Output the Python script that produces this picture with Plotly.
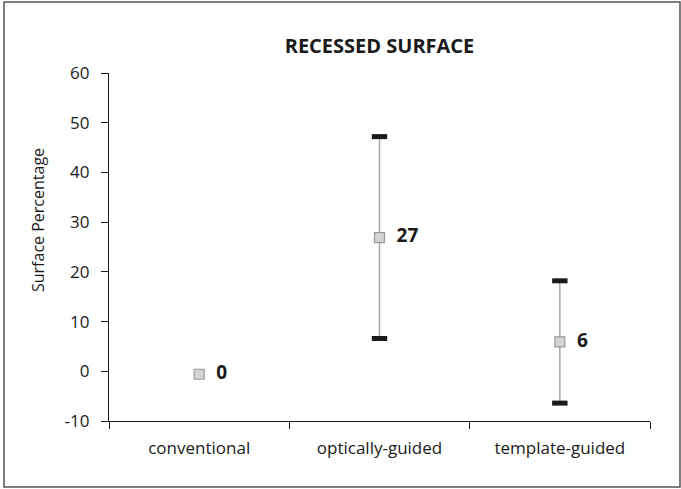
import plotly.graph_objects as go

groups = ["conventional", "optically-guided", "template-guided"]
means = [-0.6, 26.9, 5.9]
sds = [0, 20.3, 12.3]
labels = ["0", "27", "6"]
y_ticks = [-10, 0, 10, 20, 30, 40, 50, 60]
y_ticktext = ["-10", "0", "10", "20", "30", "40", "50", "60"]

FONT = "Open Sans"

fig = go.Figure()

# gray whiskers
fig.add_trace(go.Scatter(
    x=groups[1:], y=means[1:], mode="markers",
    marker=dict(size=1, color="rgba(0,0,0,0)"),
    error_y=dict(type="data", array=sds[1:], visible=True,
                 color="#a8a8a8", thickness=1.5, width=0),
    showlegend=False, hoverinfo="skip",
))

# black caps at mean +/- sd
cap_x = groups[1:] + groups[1:]
cap_y = [m + s for m, s in zip(means[1:], sds[1:])] + [m - s for m, s in zip(means[1:], sds[1:])]
fig.add_trace(go.Scatter(
    x=cap_x, y=cap_y, mode="markers",
    marker=dict(symbol="line-ew", size=11, line=dict(color="#1a1a1a", width=5)),
    showlegend=False, hoverinfo="skip",
))

# mean markers with labels
fig.add_trace(go.Scatter(
    x=groups, y=means, mode="markers+text",
    marker=dict(symbol="square", size=10, color="#d4d4d4",
                line=dict(color="#9a9a9a", width=1.2)),
    text=["  " + t for t in labels], textposition="middle right",
    textfont=dict(family=FONT, size=19, color="#1a1a1a", weight="bold"),
    showlegend=False, hoverinfo="skip",
))

fig.update_layout(
    width=681, height=489,
    margin=dict(l=109, r=31, t=73, b=68),
    paper_bgcolor="white", plot_bgcolor="white",
    font=dict(family=FONT, size=16, color="#1a1a1a"),
    title=dict(text="<b>RECESSED SURFACE</b>", x=(109 + 650) / 2 / 681, xanchor="center",
               y=1 - 46 / 489, yanchor="middle",
               font=dict(family=FONT, size=20, color="#1a1a1a")),
    xaxis=dict(
        type="category", categoryorder="array", categoryarray=groups,
        tickson="boundaries", range=[-0.5, 2.5],
        showline=True, linecolor="#1a1a1a", linewidth=1.2,
        ticks="outside", ticklen=7, tickcolor="#1a1a1a", tickwidth=1.2,
        ticklabelstandoff=11,
        showgrid=False, zeroline=False,
        tickfont=dict(family=FONT, size=17),
    ),
    yaxis=dict(
        range=[-10, 60], tickvals=y_ticks, ticktext=y_ticktext,
        showline=True, linecolor="#1a1a1a", linewidth=1.2,
        ticks="outside", ticklen=7, tickcolor="#1a1a1a", tickwidth=1.2,
        ticklabelstandoff=8,
        showgrid=False, zeroline=False,
        tickfont=dict(family=FONT, size=17),
    ),
    annotations=[dict(
        text="Surface Percentage", textangle=-90,
        xref="paper", yref="paper",
        x=(38 - 109) / 541, y=(421 - 220) / 348,
        xanchor="center", yanchor="middle", showarrow=False,
        font=dict(family=FONT, size=16, color="#1a1a1a"),
    )],
    shapes=[dict(
        type="rect", xref="paper", yref="paper",
        x0=(4 - 109) / 541, x1=(680 - 109) / 541,
        y0=(421 - 487) / 348, y1=(421 - 2) / 348,
        line=dict(color="#555555", width=1.5), layer="below",
    )],
)

fig.write_html("out.html", config={"displayModeBar": False},
               post_script="document.body.style.margin='0';")
